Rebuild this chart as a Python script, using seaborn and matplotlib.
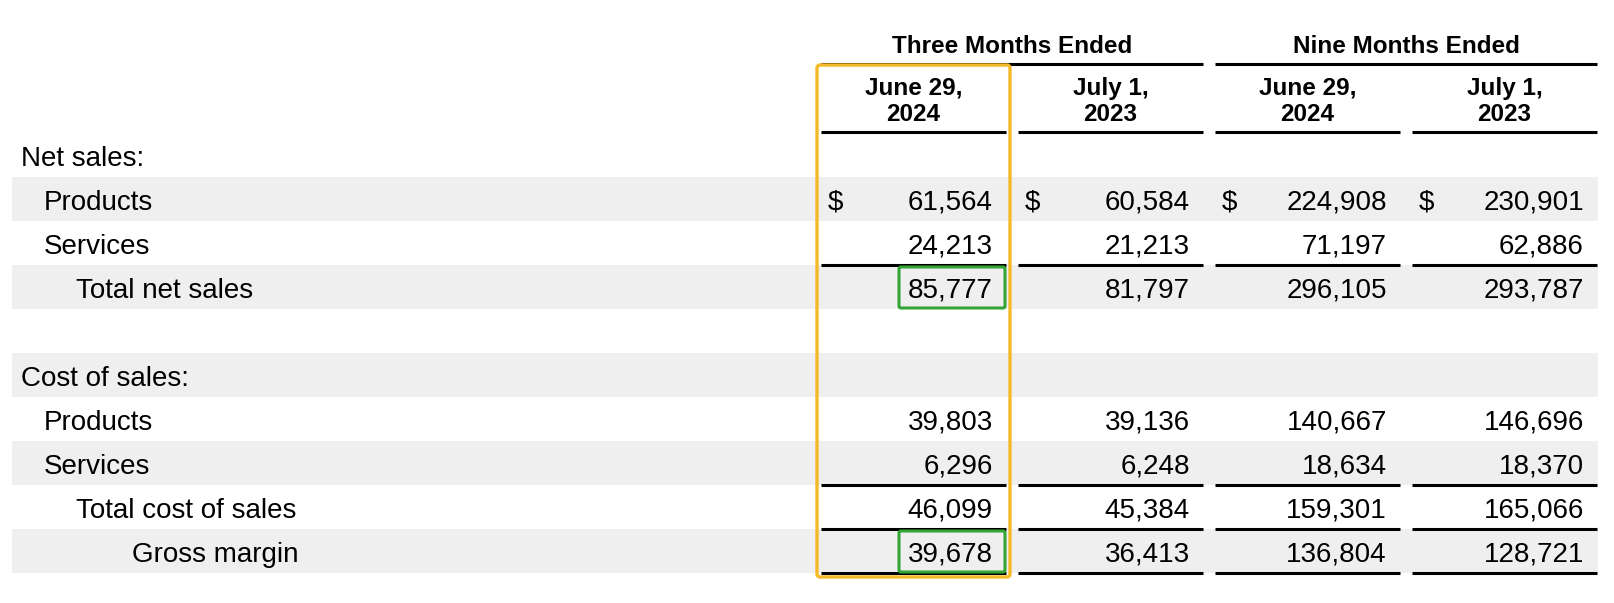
import matplotlib.pyplot as plt
import seaborn as sns
from matplotlib.patches import FancyBboxPatch, Rectangle

# table content
ROW_LABELS = ["Net sales:", "Products", "Services", "Total net sales", "",
              "Cost of sales:", "Products", "Services", "Total cost of sales", "Gross margin"]
ROW_LEVEL = [0, 1, 1, 2, 0, 0, 1, 1, 2, 3]
SHADED = [False, True, False, True, False, True, False, True, False, True]

GROUPS = ["Three Months Ended", "Nine Months Ended"]
HEAD_TOP = ["June 29,", "July 1,", "June 29,", "July 1,"]
HEAD_BOTTOM = ["2024", "2023", "2024", "2023"]

three_2024 = [None, 61564, 24213, 85777, None, None, 39803, 6296, 46099, 39678]
three_2023 = [None, 60584, 21213, 81797, None, None, 39136, 6248, 45384, 36413]
nine_2024 = [None, 224908, 71197, 296105, None, None, 140667, 18634, 159301, 136804]
nine_2023 = [None, 230901, 62886, 293787, None, None, 146696, 18370, 165066, 128721]
VALUES = [three_2024, three_2023, nine_2024, nine_2023]

DOLLAR_ROWS = [1]
RULE_AFTER = [2, 7, 8, 9]
HIGHLIGHT_CELLS = [(3, 0), (9, 0)]
HIGHLIGHT_COL = 0

# layout in pixels
W, H = 1614, 603
ROW_Y0, ROW_H = 155, 44
INDENT = [21, 44, 76, 132]
COL_LEFT = [821, 1018, 1215, 1412]
COL_W = 185
SHADE_X = (12, 1598)
SHADE_COLOR = "#efefef"
YELLOW = "#f5b829"
GREEN = "#34a534"

sns.set_theme(style="white")
plt.rcParams["font.family"] = ["Liberation Sans", "DejaVu Sans"]

fig = plt.figure(figsize=(W / 100, H / 100), dpi=100)
ax = fig.add_axes([0, 0, 1, 1])
ax.set_xlim(0, W)
ax.set_ylim(H, 0)
ax.axis("off")


def row_center(i):
    return ROW_Y0 + i * ROW_H


# shaded bands
for i, shaded in enumerate(SHADED):
    if shaded:
        ax.add_patch(Rectangle((SHADE_X[0], row_center(i) - ROW_H / 2), SHADE_X[1] - SHADE_X[0], ROW_H,
                               facecolor=SHADE_COLOR, edgecolor="none", zorder=0))

# group headers
for g, title in enumerate(GROUPS):
    x0 = COL_LEFT[2 * g]
    x1 = COL_LEFT[2 * g + 1] + COL_W
    ax.text((x0 + x1) / 2, 53, title, ha="center", va="baseline", fontsize=17.5, fontweight="bold", color="black")
    ax.plot([x0, x1], [64, 64], color="black", lw=2.2, solid_capstyle="butt")

# column headers
for c in range(len(HEAD_TOP)):
    xc = COL_LEFT[c] + COL_W / 2
    ax.text(xc, 95, HEAD_TOP[c], ha="center", va="baseline", fontsize=17.5, fontweight="bold", color="black")
    ax.text(xc, 121, HEAD_BOTTOM[c], ha="center", va="baseline", fontsize=17.5, fontweight="bold", color="black")
    ax.plot([COL_LEFT[c], COL_LEFT[c] + COL_W], [132, 132], color="black", lw=2.2, solid_capstyle="butt")

# row labels
for i, label in enumerate(ROW_LABELS):
    if label:
        ax.text(INDENT[ROW_LEVEL[i]], row_center(i) + 10.5, label, ha="left", va="baseline",
                fontsize=20, color="black")

# values
for c, col in enumerate(VALUES):
    right = COL_LEFT[c] + COL_W - 13
    for i, v in enumerate(col):
        if v is None:
            continue
        ax.text(right, row_center(i) + 10.5, f"{v:,}", ha="right", va="baseline", fontsize=20, color="black")
        if i in DOLLAR_ROWS:
            ax.text(COL_LEFT[c] + 7, row_center(i) + 10.5, "$", ha="left", va="baseline", fontsize=20, color="black")
    for i in RULE_AFTER:
        y = row_center(i) + ROW_H / 2
        ax.plot([COL_LEFT[c], COL_LEFT[c] + COL_W], [y, y], color="black", lw=2.2, solid_capstyle="butt", zorder=3)

# highlighted cells
for i, c in HIGHLIGHT_CELLS:
    right = COL_LEFT[c] + COL_W - 1
    ax.add_patch(FancyBboxPatch((right - 106, row_center(i) - 20), 106, 41,
                                boxstyle="round,pad=0,rounding_size=2",
                                facecolor="none", edgecolor=GREEN, lw=2.2, zorder=4))

# highlighted column
x0 = COL_LEFT[HIGHLIGHT_COL] - 4
ax.add_patch(FancyBboxPatch((x0, 65), COL_W + 8, 512, boxstyle="round,pad=0,rounding_size=3",
                            facecolor="none", edgecolor=YELLOW, lw=2.4, zorder=5))

fig.savefig("out.png", dpi=100, facecolor="white")
